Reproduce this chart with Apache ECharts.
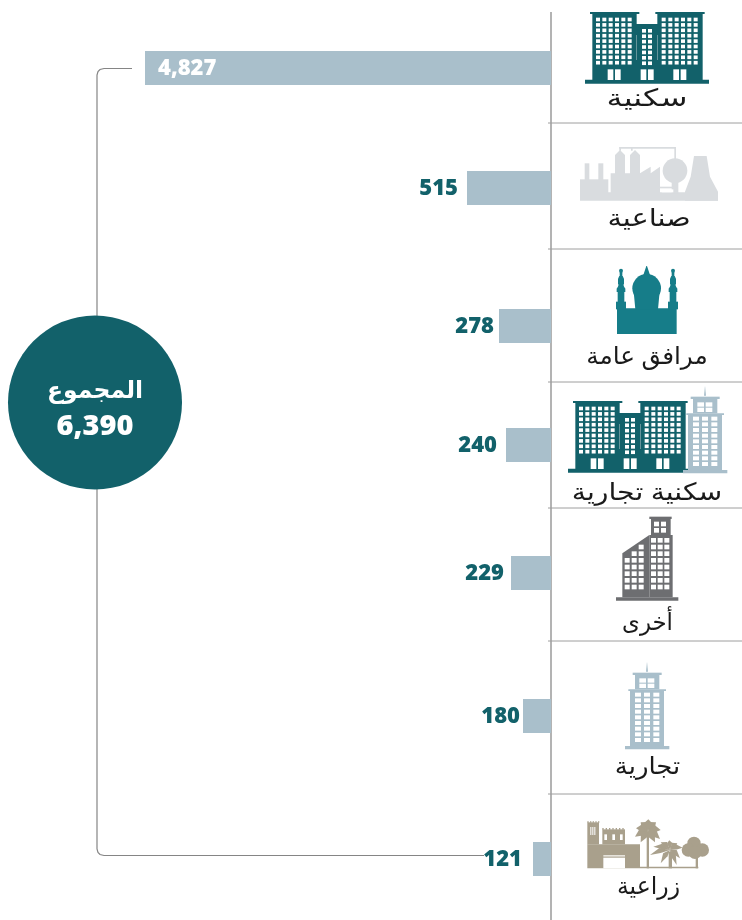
<!DOCTYPE html>
<html><head><meta charset="utf-8">
<style>html,body{margin:0;padding:0;background:#fff}#c{width:742px;height:920px}</style>
<script src="https://cdn.jsdelivr.net/npm/echarts@6/dist/echarts.min.js"></script>
</head><body><div id="c"></div>
<script>
const categories = ['سكنية','صناعية','مرافق عامة','سكنية تجارية','أخرى','تجارية','زراعية'];
const values = [4827,515,278,240,229,180,121];
const totalLabel = 'المجموع';
const totalValue = 6390;

// layout
const barLengths = [406,84,52,45,40,28,18];
const barTops = [51,171,309,428,556,699,842];
const labelGaps = [13,9,5,9,7,3,11];
const captionY = [99,219,357,493,623,767,887];
const captionX = [647,649,647,647,647.5,647.5,648.5];
const captionStretch = [1.33,1.2,1.03,1.18,0.95,1.08,0.98];
const separators = [123,249,382,508,641,794];
const BAR_H = 34, AXIS_X = 551;
const TEAL='#12616a', BAR='#a9bfcb', MOSQUE='#167d89', GREY='#6d6e71', LIGHT='#d9dcdf', SAND='#a9a08c', LINE='#9a9a9a';
const NUM='"Open Sans","Noto Sans",sans-serif', AR='"Noto Sans","DejaVu Sans",sans-serif';

const gfx=[];
// helpers work in 3x zoom coordinates relative to an origin
function R(ox,oy,x0,y0,x1,y1,fill){gfx.push({type:'rect',shape:{x:ox+x0/3,y:oy+y0/3,width:(x1-x0)/3,height:(y1-y0)/3},style:{fill},silent:true});}
function P(ox,oy,pts,fill){gfx.push({type:'polygon',shape:{points:pts.map(p=>[ox+p[0]/3,oy+p[1]/3])},style:{fill},silent:true});}
function C(ox,oy,x,y,r,fill){gfx.push({type:'circle',shape:{cx:ox+x/3,cy:oy+y/3,r:r/3},style:{fill},silent:true});}

function apartments(ox,oy){
  const t=TEAL,w='#fff';
  R(ox,oy,75,239,447,251,t);
  R(ox,oy,97,38,230,240,t); R(ox,oy,292,38,428,240,t); R(ox,oy,228,72,294,240,t);
  R(ox,oy,90,36,238,42,t); R(ox,oy,286,36,434,42,t);
  [108,127,146,165,184,203, 305,325,344,363,382,401].forEach(x=>{
    for(let r=0;r<9;r++) R(ox,oy,x,53+r*16.2,x+12,53+r*16.2+11,w);
  });
  [246,264].forEach(x=>{for(let r=0;r<7;r++) R(ox,oy,x,87+r*16.2,x+12,87+r*16.2+11,w);});
  [143,242,340].forEach(x=>{R(ox,oy,x,208,x+17,240,w);R(ox,oy,x+22,208,x+39,240,w);});
  R(ox,oy,229,105,231,180,'#8fb0b5'); R(ox,oy,291,105,293,180,'#8fb0b5');
}
function tower(ox,oy){
  const c=BAR,w='#fff';
  P(ox,oy,[[168,65],[171,35],[174,65]],c);
  R(ox,oy,128,68,215,75,c); R(ox,oy,135,75,208,118,c);
  R(ox,oy,115,118,228,123,c); R(ox,oy,120,123,222,288,c); R(ox,oy,105,288,238,298,c);
  [[148,85],[173,85],[148,101],[173,101]].forEach(a=>R(ox,oy,a[0],a[1],a[0]+20,a[1]+13,w));
  [135,162,190].forEach(x=>{for(let r=0;r<9;r++) R(ox,oy,x,128+r*17,x+18,128+r*17+12,w);});
}
// residential
apartments(560,0);
// industrial
(function(){const o=[560,130],f=LIGHT;
  R(o[0],o[1],60,187,474,212,f); R(o[0],o[1],60,148,145,190,f);
  R(o[0],o[1],74,100,88,150,f); R(o[0],o[1],115,100,130,150,f);
  P(o[0],o[1],[[152,130],[165,130],[165,75],[180,60],[195,75],[195,130],[210,130],[210,75],[225,60],[240,75],[240,130],[272,110],[272,130],[300,110],[300,190],[152,190]],f);
  R(o[0],o[1],178,51,348,56,f); R(o[0],o[1],343,51,348,90,f); R(o[0],o[1],213,51,218,62,f); R(o[0],o[1],178,51,183,62,f);
  C(o[0],o[1],345,122,37,f);
  R(o[0],o[1],335,155,355,190,f); R(o[0],o[1],300,170,340,175,f); R(o[0],o[1],305,178,340,187,'#fff');
  P(o[0],o[1],[[402,78],[440,78],[450,140],[474,185],[474,212],[375,212],[375,185],[392,140]],f);
})();
// public facilities
(function(){const o=[560,250],m=MOSQUE;
  R(o[0],o[1],171,175,350,252,m);
  C(o[0],o[1],260,115,43,m);
  P(o[0],o[1],[[222,135],[298,135],[294,178],[226,178]],m);
  P(o[0],o[1],[[250,75],[259,48],[261,48],[270,75]],m);
  [183,339].forEach(c=>{
    C(o[0],o[1],c,62,6,m);
    R(o[0],o[1],c-4,66,c+4,80,m);
    P(o[0],o[1],[[c-5,78],[c+5,78],[c+9,86],[c+9,102],[c-9,102],[c-9,86]],m);
    R(o[0],o[1],c-8,100,c+8,110,m);
    P(o[0],o[1],[[c-8,108],[c+8,108],[c+13,116],[c+13,126],[c-13,126],[c-13,116]],m);
    R(o[0],o[1],c-10,124,c+10,157,m);
    R(o[0],o[1],c-15,155,c+15,178,m);
  });
})();
// mixed
apartments(543,389);
tower(648,374);
// other
(function(){const o=[590,510],g=GREY,w='#fff';
  R(o[0],o[1],78,262,265,272,g);
  R(o[0],o[1],178,20,245,27,g); R(o[0],o[1],183,27,242,75,g);
  R(o[0],o[1],178,75,248,262,g);
  P(o[0],o[1],[[97,130],[178,75],[178,262],[97,262]],g);
  [[192,35],[213,35],[192,54],[213,54]].forEach(a=>R(o[0],o[1],a[0],a[1],a[0]+15,a[1]+14,w));
  [183,203,223].forEach(x=>{for(let r=0;r<8;r++) R(o[0],o[1],x,84+r*20,x+15,84+r*20+14,w);});
  [[104,3],[125,2],[146,1]].forEach(a=>{for(let r=a[1];r<8;r++) R(o[0],o[1],a[0],84+r*20,a[0]+15,84+r*20+14,w);});
})();
// commercial
tower(590,650);
// agricultural
(function(){const o=[570,805],s=SAND,w='#fff';
  R(o[0],o[1],52,118,210,190,s);
  R(o[0],o[1],52,52,87,118,s);
  R(o[0],o[1],97,73,165,118,s);
  [52,60,68,76,84].forEach(x=>R(o[0],o[1],x,49,x+4,53,s));
  [97,107,117,127,137,147,157].forEach(x=>R(o[0],o[1],x,69,x+4,74,s));
  [61,67,73].forEach(x=>R(o[0],o[1],x,66,x+3,90,w));
  [103,127,150].forEach(x=>R(o[0],o[1],x,88,x+8,105,w));
  R(o[0],o[1],100,158,165,190,w); R(o[0],o[1],100,150,165,155,'#e6e3db');
  R(o[0],o[1],210,185,385,190,s);
  function frond(cx,cy,tx,ty,wd){const mx=(cx+tx)/2,my=(cy+ty)/2-6;const dx=tx-cx,dy=ty-cy,l=Math.hypot(dx,dy);const nx=-dy/l*wd,ny=dx/l*wd;
    P(o[0],o[1],[[cx,cy],[mx+nx,my+ny],[tx,ty],[mx-nx,my-ny]],s);}
  R(o[0],o[1],230,80,237,190,s);
  [[195,95],[198,70],[212,52],[235,43],[258,52],[272,75],[270,102],[212,112],[255,112]].forEach(t=>frond(234,78,t[0],t[1],12));
  R(o[0],o[1],296,140,306,190,s);
  [[240,150],[250,125],[272,112],[298,106],[322,115],[338,128],[330,160],[272,175],[320,180]].forEach(t=>frond(300,135,t[0],t[1],8));
  R(o[0],o[1],377,150,384,190,s);
  C(o[0],o[1],372,115,20,s);C(o[0],o[1],355,135,20,s);C(o[0],o[1],397,135,20,s);C(o[0],o[1],375,142,20,s);
})();

// axis rule and separators
gfx.push({type:'line',shape:{x1:AXIS_X,y1:12,x2:AXIS_X,y2:920},style:{stroke:LINE,lineWidth:1.5},silent:true});
separators.forEach(y=>gfx.push({type:'line',shape:{x1:548,y1:y,x2:742,y2:y},style:{stroke:'#9e9e9e',lineWidth:1},silent:true}));
// connector
gfx.push({type:'polyline',shape:{points:[[132,68.5],[104,68.5],[100,69.5],[98,71.5],[97,75],[97,849],[98,852.5],[100,854.5],[104,855.5],[484,855.5]]},style:{stroke:'#858585',lineWidth:1.2,fill:null},silent:true});
// total bubble
gfx.push({type:'circle',shape:{cx:95,cy:402.5,r:87},style:{fill:TEAL},silent:true,z:95});
gfx.push({type:'text',x:95,y:391,style:{text:totalLabel,fill:'#fff',font:'bold 23.5px '+AR,textAlign:'center',textVerticalAlign:'middle'},silent:true,z:96});
gfx.push({type:'text',x:95,y:427,style:{text:echarts.format.addCommas(totalValue),fill:'#fff',font:'800 29px '+NUM,textAlign:'center',textVerticalAlign:'middle'},silent:true,z:96});
// category captions
categories.forEach((c,i)=>gfx.push({type:'text',x:captionX[i],y:captionY[i],scaleX:captionStretch[i],style:{text:c,fill:'#1a1a1a',font:'24px '+AR,textAlign:'center',textVerticalAlign:'middle'},silent:true}));

const grids=[],xAxes=[],yAxes=[],series=[];
values.forEach((v,i)=>{
  grids.push({left:AXIS_X-barLengths[i],top:barTops[i],width:barLengths[i],height:BAR_H,containLabel:false});
  xAxes.push({type:'value',gridIndex:i,min:0,max:v,inverse:true,show:false});
  yAxes.push({type:'category',gridIndex:i,data:[categories[i]],show:false});
  series.push({type:'bar',xAxisIndex:i,yAxisIndex:i,data:[v],barWidth:BAR_H,silent:true,animation:false,
    itemStyle:{color:BAR},
    label:{show:true,position:i===0?'insideLeft':'left',distance:labelGaps[i],offset:[0,1],
      formatter:p=>echarts.format.addCommas(p.value),
      color:i===0?'#fff':TEAL,fontFamily:NUM,fontWeight:800,fontSize:22}});
});
const chart=echarts.init(document.getElementById('c'),null,{renderer:'canvas'});
chart.setOption({animation:false,backgroundColor:'#fff',grid:grids,xAxis:xAxes,yAxis:yAxes,series,graphic:{elements:gfx}});
</script></body></html>
